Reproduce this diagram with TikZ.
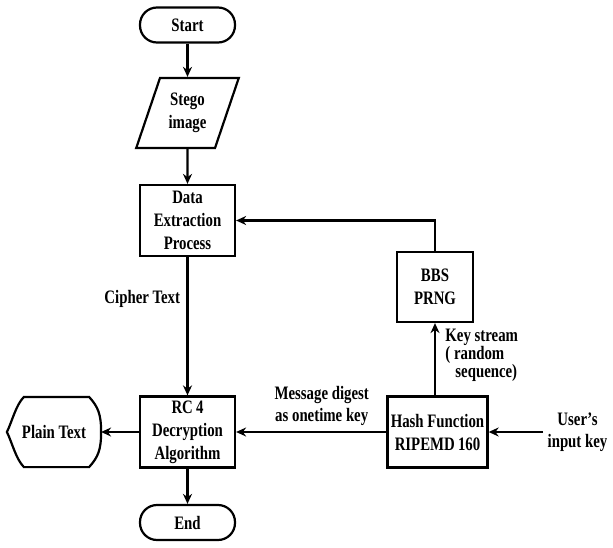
\documentclass[tikz,border=0pt]{standalone}
\usepackage{fontspec}
\setmainfont[FakeStretch=0.78]{Liberation Serif}
\usetikzlibrary{shapes.geometric}
\usetikzlibrary{positioning}
\usetikzlibrary{arrows.meta}
\tikzstyle{startstop} = [rectangle, rounded corners=17pt, minimum width=95pt, minimum height=35pt, text centered, draw=black]
\tikzstyle{io} = [trapezium, trapezium left angle=67.5, trapezium right angle=112.5, trapezium stretches=true, minimum width=103pt, minimum height=70pt, text centered, draw=black, align=center]
\tikzstyle{process} = [rectangle, minimum width=95pt, minimum height=71pt, text centered, draw=black, align=center]
\tikzstyle{display} = [rectangle, minimum width=92pt, minimum height=68pt, text centered]
\tikzstyle{note} = [align=center, font=\fontsize{19}{22}\selectfont\bfseries]
\tikzstyle{arrow} = [line width=2.2pt,-{Stealth[length=10pt,width=9pt]}]

\begin{document}
\begin{tikzpicture}[x=1pt, y=1pt, line width=2.2pt, font=\fontsize{19}{23}\selectfont\bfseries]
        \useasboundingbox (0,0) rectangle (613,-548);
        \node (start) [startstop] at (187.5,-25) {Start};
        \node (stego) [io, below of=start, node distance=88pt] {Stego\\image};
        \node (extract) [process, below of=stego, node distance=107.5pt] {Data\\Extraction\\Process};
        \node (rcfour) [process, below of=extract, node distance=211.5pt] {RC\,4\\Decryption\\Algorithm};
        \node (stop) [startstop, below of=rcfour, node distance=90.5pt] {End};
        \node (plain) [display, left of=rcfour, node distance=133.5pt] {Plain Text};
        \node (hash) [process, minimum width=96pt, right of=rcfour, node distance=250pt] {Hash Function\\RIPEMD\,160};
        \node (bbs) [process, minimum width=76pt, minimum height=70pt, above of=hash, node distance=145pt, xshift=-2.5pt] {BBS\\PRNG};
        \node (user) [note, right of=hash, node distance=140pt] {User’s\\input key};

        % display shape for the output
        \draw ([xshift=17pt]plain.north west) -- ([xshift=-12pt]plain.north east)
            .. controls +(9,-10) and +(0,18) .. (plain.east)
            .. controls +(0,-18) and +(9,10) .. ([xshift=-12pt]plain.south east)
            -- ([xshift=17pt]plain.south west)
            .. controls +(-8,8) and +(5,-10) .. (plain.west)
            .. controls +(5,10) and +(-8,-8) .. cycle;

        \draw [arrow] (start) -- (stego);
        \draw [arrow] (stego) -- (extract);
        \draw [arrow] (extract) -- node[note, anchor=east, pos=0.3, xshift=-3pt] {Cipher Text} (rcfour);
        \draw [arrow] (rcfour) -- (plain.east);
        \draw [arrow] (rcfour) -- (stop);
        \draw [arrow] (hash) -- node[note, anchor=south, pos=0.43, yshift=2pt] {Message digest\\as onetime key} (rcfour);
        \draw [arrow] (hash.north -| bbs) -- node[anchor=west, align=left, xshift=6pt, yshift=4pt, font=\fontsize{19}{14}\selectfont\bfseries] {Key stream\\( random\\\hspace{10pt}sequence)} (bbs);
        \draw [arrow] (bbs) |- (extract);
        \draw [arrow] (user) -- (hash);
    \end{tikzpicture}
\end{document}
